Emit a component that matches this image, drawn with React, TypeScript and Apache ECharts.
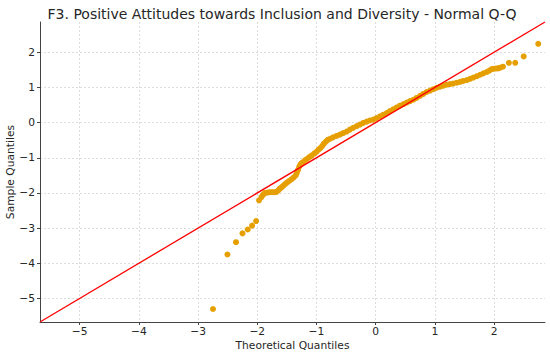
import React, { useEffect, useRef } from "react";
import * as echarts from "echarts";

const titleText = "F3. Positive Attitudes towards Inclusion and Diversity - Normal Q-Q";
const xName = "Theoretical Quantiles";
const yName = "Sample Quantiles";
const axisMin = -5.67;
const axisMax = 2.86;

// [theoretical quantile, sample quantile]
const lowTail: number[][] = [
  [-2.748, -5.3], [-2.504, -3.75], [-2.359, -3.4], [-2.25, -3.15],
  [-2.161, -3.04], [-2.088, -2.93], [-2.02, -2.8],
];
const band: number[][] = [
  [-1.97, -2.21], [-1.93, -2.12], [-1.9, -2.05], [-1.87, -2.0], [-1.83, -1.99],
  [-1.79, -1.98], [-1.75, -1.98], [-1.71, -1.98], [-1.675, -1.97], [-1.645, -1.93],
  [-1.62, -1.88], [-1.59, -1.84], [-1.563, -1.8], [-1.53, -1.75], [-1.495, -1.7],
  [-1.46, -1.66], [-1.42, -1.61], [-1.385, -1.56], [-1.35, -1.5], [-1.33, -1.42],
  [-1.31, -1.34], [-1.29, -1.25], [-1.27, -1.19], [-1.25, -1.15], [-1.225, -1.12],
  [-1.19, -1.07], [-1.157, -1.03], [-1.12, -0.98], [-1.083, -0.94], [-1.04, -0.88],
  [-1.0, -0.83], [-0.965, -0.77], [-0.93, -0.72], [-0.9, -0.66], [-0.875, -0.6],
  [-0.84, -0.54], [-0.81, -0.49], [-0.77, -0.46], [-0.72, -0.42], [-0.66, -0.38],
  [-0.604, -0.34], [-0.55, -0.3], [-0.49, -0.255], [-0.435, -0.2], [-0.38, -0.15],
  [-0.32, -0.1], [-0.266, -0.057], [-0.21, -0.01], [-0.152, 0.028], [-0.1, 0.06],
  [-0.04, 0.085], [0.015, 0.13], [0.073, 0.18], [0.13, 0.225], [0.186, 0.27],
  [0.24, 0.325], [0.3, 0.38], [0.355, 0.43], [0.41, 0.48], [0.47, 0.525],
  [0.525, 0.57], [0.58, 0.61], [0.636, 0.65], [0.69, 0.7], [0.75, 0.76],
  [0.805, 0.815], [0.86, 0.87], [0.92, 0.91], [0.975, 0.95], [1.03, 0.99],
  [1.088, 1.02], [1.145, 1.05], [1.2, 1.08], [1.255, 1.095], [1.31, 1.11],
  [1.37, 1.135], [1.426, 1.16], [1.48, 1.185], [1.54, 1.21], [1.595, 1.245],
  [1.65, 1.28], [1.71, 1.32], [1.765, 1.36], [1.82, 1.4], [1.88, 1.44],
  [1.92, 1.48], [1.96, 1.52], [2.0, 1.53], [2.037, 1.54], [2.07, 1.54],
  [2.1, 1.56], [2.15, 1.59],
];
const highTail: number[][] = [
  [2.25, 1.7], [2.357, 1.7], [2.5, 1.88], [2.746, 2.24],
];
const refLine: number[][] = [[axisMin, axisMin], [axisMax, axisMax]];

const FONT = "DejaVu Sans";
const fmt = (v: number) => (v < 0 ? "\u2212" + Math.abs(v) : String(v));

export default function App() {
  const ref = useRef<HTMLDivElement>(null);
  useEffect(() => {
    if (!ref.current) return;
    const chart = echarts.init(ref.current, undefined, { renderer: "svg" });
    const axisCommon = {
      type: "value" as const,
      min: axisMin,
      max: axisMax,
      splitNumber: 8,
      nameLocation: "middle" as const,
      nameMoveOverlap: false,
      nameTextStyle: { fontFamily: FONT, fontSize: 10.7, color: "#262626" },
      axisLine: { show: true, onZero: false, lineStyle: { color: "#444", width: 1 } },
      axisTick: { show: true, length: 3, lineStyle: { color: "#444" } },
      splitLine: {
        show: true, showMinLine: false, showMaxLine: false,
        lineStyle: { color: "#d4d4d4", type: [2, 2], width: 0.8 },
      },
    };
    const labelCommon = {
      fontFamily: FONT, fontSize: 10.7, color: "#262626", formatter: fmt,
      showMinLabel: false, showMaxLabel: false,
    };
    chart.setOption({
      animation: false,
      backgroundColor: "#ffffff",
      title: {
        text: titleText,
        left: 277,
        textAlign: "center",
        top: 2,
        textStyle: { fontFamily: FONT, fontSize: 14, fontWeight: "normal", color: "#262626" },
      },
      grid: { left: 40, right: 5, top: 22, bottom: 35, outerBoundsMode: "none", containLabel: false },
      xAxis: { ...axisCommon, name: xName, nameGap: 18, axisLabel: { ...labelCommon, margin: 4 } },
      yAxis: { ...axisCommon, name: yName, nameGap: 24, axisLabel: { ...labelCommon, margin: 5 } },
      series: [
        {
          type: "scatter",
          data: [...lowTail, ...band, ...highTail],
          symbolSize: 6,
          itemStyle: { color: "#E69F00", opacity: 1 },
          z: 2,
        },
        {
          type: "line",
          data: refLine,
          symbol: "none",
          lineStyle: { color: "#ff0000", width: 1.3 },
          z: 3,
        },
      ],
    });
    return () => chart.dispose();
  }, []);
  return <div ref={ref} style={{ width: 550, height: 357, position: "absolute", left: 0, top: 0 }} />;
}
